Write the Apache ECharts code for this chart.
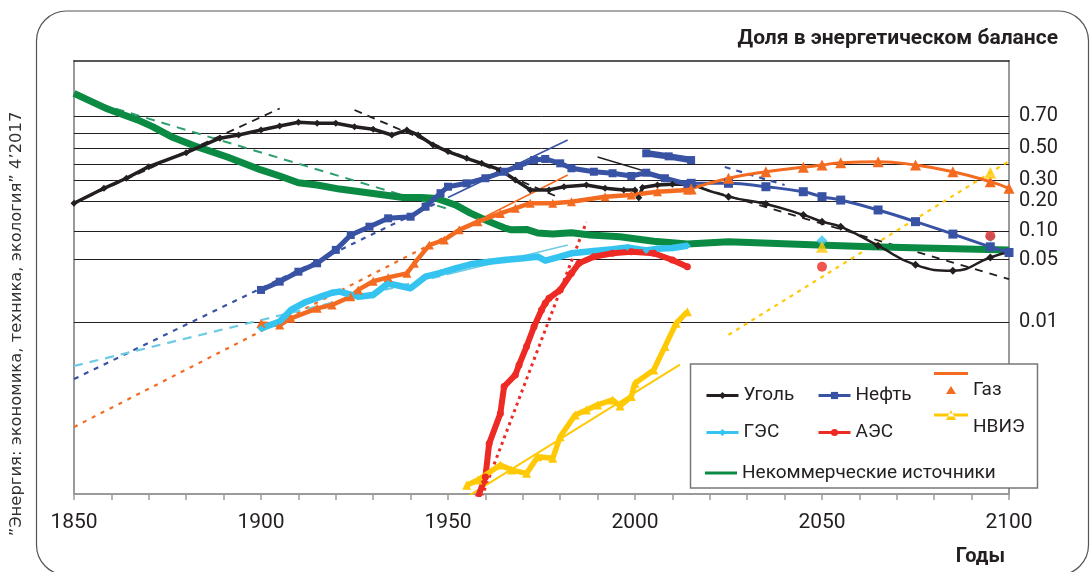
<!DOCTYPE html>
<html>
<head>
<meta charset="utf-8">
<script src="https://cdn.jsdelivr.net/npm/echarts@6/dist/echarts.min.js"></script>
<style>
  html, body { margin: 0; padding: 0; background: #fff; }
  #chart { width: 1090px; height: 572px; }
</style>
</head>
<body>
<div id="chart"></div>
<script>
  // shares of the energy balance (fractions)
  const coalHistory = [[1850,0.19],[1858,0.258],[1864,0.312],[1870,0.381],[1880,0.471],[1889,0.566],[1894,0.587],[1900,0.618],[1905,0.643],[1910,0.665],[1915,0.659],[1920,0.659],[1925,0.639],[1930,0.623],[1935,0.587],[1939,0.618],[1942,0.587],[1946,0.522],[1950,0.478],[1955,0.434],[1959,0.402],[1964,0.361],[1968,0.302],[1972,0.25],[1977,0.25],[1981,0.266],[1987,0.275],[1992,0.258],[1997,0.25],[2000,0.25],[2001,0.213],[2002,0.262],[2006,0.275],[2010,0.279],[2014,0.279]];
  const coalForecast = [[2015,0.279],[2025,0.218],[2035,0.187],[2045,0.147],[2050,0.126],[2055,0.112],[2065,0.071],[2075,0.044],[2085,0.038],[2095,0.053],[2100,0.061]];

  const oilHistory = [[1900,0.0232],[1905,0.0287],[1910,0.037],[1915,0.0458],[1920,0.064],[1924,0.092],[1929,0.112],[1934,0.136],[1940,0.141],[1944,0.176],[1948,0.234],[1950,0.266],[1955,0.284],[1960,0.312],[1965,0.35],[1969,0.385],[1973,0.423],[1976,0.43],[1980,0.402],[1983,0.371],[1989,0.35],[1994,0.341],[1999,0.325],[2003,0.344],[2008,0.312],[2014,0.28]];
  const oilUpper = [[2003,0.467],[2009,0.447],[2015,0.423]];
  const oilForecast = [[2015,0.284],[2025,0.284],[2035,0.266],[2045,0.241],[2050,0.218],[2055,0.203],[2065,0.164],[2075,0.126],[2085,0.094],[2095,0.069],[2100,0.06]];

  const gasHistory = [[1900,0.0097],[1905,0.0093],[1908,0.0111],[1915,0.0144],[1919,0.0157],[1924,0.0195],[1926,0.0232],[1930,0.029],[1934,0.032],[1939,0.0355],[1941,0.0458],[1945,0.072],[1949,0.0816],[1953,0.104],[1958,0.126],[1964,0.152],[1968,0.17],[1972,0.19],[1978,0.19],[1983,0.196],[1992,0.218],[1999,0.226],[2006,0.241],[2014,0.25]];
  const gasForecast = [[2015,0.255],[2025,0.312],[2035,0.35],[2045,0.377],[2050,0.391],[2055,0.406],[2065,0.412],[2075,0.391],[2085,0.35],[2095,0.293],[2100,0.258]];

  const hydroHistory = [[1900,0.0085],[1905,0.0102],[1908,0.0138],[1912,0.017],[1916,0.0195],[1919,0.0216],[1921,0.0222],[1926,0.0195],[1930,0.0204],[1934,0.0275],[1940,0.0242],[1944,0.0326],[1948,0.036],[1952,0.0403],[1956,0.0446],[1961,0.0476],[1965,0.0497],[1970,0.052],[1974,0.054],[1976,0.049],[1980,0.054],[1983,0.0588],[1989,0.0623],[1994,0.065],[1998,0.068],[2003,0.063],[2006,0.066],[2010,0.067],[2014,0.071]];
  const hydroScenario = [[2050,0.08],[2095,0.088]];

  const nuclearHistory = [[1958,0.0001],[1960,0.00017],[1961,0.00041],[1964,0.00091],[1965,0.00185],[1968,0.00251],[1969,0.00327],[1971,0.0053],[1973,0.0089],[1975,0.0138],[1976,0.0164],[1977,0.0187],[1980,0.0232],[1983,0.0355],[1985,0.0458],[1989,0.054],[1994,0.0588],[1999,0.0612],[2005,0.0588],[2010,0.0497],[2014,0.042]];
  const nuclearScenario = [[2050,0.042],[2095,0.09]];

  const renewHistory = [[1955,0.000137],[1958,0.000157],[1964,0.000233],[1967,0.000204],[1971,0.000187],[1974,0.00029],[1978,0.000278],[1980,0.000493],[1984,0.000873],[1987,0.000997],[1990,0.00114],[1994,0.0013],[1996,0.00111],[1999,0.00142],[2000,0.00202],[2005,0.00286],[2008,0.00529],[2011,0.00974],[2014,0.0132]];
  const renewScenario = [[2050,0.069],[2095,0.344]];

  const noncomShare = [[1850,0.81],[1859,0.738],[1867,0.679],[1871,0.639],[1876,0.576],[1883,0.509],[1891,0.443],[1900,0.361],[1905,0.325],[1910,0.287],[1915,0.275],[1921,0.254],[1929,0.235],[1938,0.214],[1943,0.214],[1947,0.21],[1952,0.183],[1956,0.153],[1961,0.126],[1965,0.109],[1967,0.104],[1971,0.105],[1974,0.0965],[1978,0.094],[1983,0.097],[1988,0.092],[1996,0.088],[2005,0.079],[2014,0.074],[2025,0.078],[2049,0.072],[2063,0.069],[2100,0.064]];

  // logistic fits (straight in this scale)
  const noncomFit = [[1857,0.763],[1950,0.168]];
  const coalFitRise = [[1850,0.19],[1905,0.741]];
  const coalFitFall = [[1925,0.733],[1980,0.212]];
  const coalFitLate = [[1990,0.443],[2014,0.281]];
  const coalFitLateAhead = [[2014,0.281],[2100,0.0306]];
  const oilFitBack = [[1850,0.00225],[1950,0.214]];
  const oilFit = [[1950,0.214],[1982,0.554]];
  const oilFitAhead = [[2024,0.379],[2040,0.275]];
  const gasFitBack = [[1850,0.000636],[1950,0.0909]];
  const gasFit = [[1950,0.0909],[1982,0.331]];
  const hydroFitBack = [[1850,0.00318],[1950,0.0347]];
  const hydroFit = [[1950,0.0347],[1982,0.072]];
  const nuclearFit = [[1959,0.0001],[1987,0.125]];
  const renewFit = [[1955,0.0001],[2012,0.0033]];
  const renewFitAhead = [[2025,0.0072],[2100,0.416]];

  const shareLabels = [0.7, 0.5, 0.3, 0.2, 0.1, 0.05, 0.01];
  const shareGrid = [0.7, 0.6, 0.5, 0.4, 0.3, 0.2, 0.1, 0.05, 0.01];

  const C = {
    coal: '#231f20', oil: '#3953a4', gas: '#f36b21', hydro: '#35c3f0',
    nuclear: '#ee2a24', renew: '#ffc905', noncom: '#0b8a43'
  };
  const FONT = 'Roboto, "Noto Sans", sans-serif';

  const logit = p => Math.log(p / (1 - p));
  const toLogit = rows => rows.map(r => [r[0], logit(r[1])]);
  const Y_MIN = -9.129, Y_MAX = 2.305;

  function hist(name, rows, color, symbol, size, width, z) {
    return {
      name, type: 'line', data: toLogit(rows), symbol, symbolSize: size,
      showSymbol: true, itemStyle: { color }, lineStyle: { color, width },
      z: z || 10, silent: true
    };
  }
  function smooth(name, rows, color, symbol, size, width) {
    const s = hist(name, rows, color, symbol, size, width, 11);
    s.smooth = 0.5;
    return s;
  }
  function dots(name, rows, color, symbol, size) {
    return {
      name, type: 'scatter', data: toLogit(rows), symbol, symbolSize: size,
      itemStyle: { color }, z: 12, silent: true
    };
  }
  function fit(rows, color, type, width) {
    return {
      name: 'fit', type: 'line', data: toLogit(rows), symbol: 'none',
      lineStyle: { color, type, width }, z: 8, silent: true
    };
  }

  const chart = echarts.init(document.getElementById('chart'));

  const legendText = { fontSize: 19, color: '#231f20', fontFamily: FONT };
  function legendAt(left, top, data, extra) {
    return Object.assign({
      orient: 'horizontal', padding: 0, itemGap: 0, itemWidth: 32, itemHeight: 9,
      selectedMode: false, z: 30, lineStyle: { width: 3 }, textStyle: legendText,
      left, top, data
    }, extra || {});
  }

  const option = {
    animation: false,
    backgroundColor: '#fff',
    title: [
      {
        text: 'Доля в энергетическом балансе', right: 27, top: 23,
        textStyle: { fontSize: 21, fontWeight: 'bold', color: '#231f20', fontFamily: FONT }
      },
      {
        text: 'Годы', right: 80, top: 542,
        textStyle: { fontSize: 20, fontWeight: 'bold', color: '#231f20', fontFamily: FONT }
      }
    ],
    grid: { left: 74, right: 81, top: 61, bottom: 78 },
    legend: [
      legendAt(705, 386, ['Уголь']),
      legendAt(817, 386, ['Нефть']),
      legendAt(934, 372, [{ name: 'Газ', icon: 'path://M0,0L34,0L34,3L0,3Z M12,22L22,22L17,14Z M0,36L0.1,36L0,36Z' }],
        { itemWidth: 34, itemHeight: 36 }),
      legendAt(705, 423, ['ГЭС']),
      legendAt(817, 423, ['АЭС']),
      legendAt(934, 410, [{ name: 'НВИЭ', icon: 'path://M0,3.5L34,3.5L34,6.5L0,6.5Z M12,10L22,10L17,0Z M0,34L0.1,34L0,34Z' }],
        { itemWidth: 34, itemHeight: 34 }),
      legendAt(705, 463.5, [{ name: 'Некоммерческие источники', icon: 'path://M0,0L32,0L32,3L0,3Z' }],
        { itemHeight: 3 })
    ],
    xAxis: [
      {
        type: 'value', min: 1850, max: 2100, interval: 10,
        axisLine: { onZero: false, lineStyle: { color: '#9a9a9a', width: 2 } },
        axisTick: { length: 6, lineStyle: { color: '#9a9a9a', width: 1.5 } },
        axisLabel: {
          margin: 18, fontSize: 21, color: '#231f20', fontFamily: FONT,
          formatter: v => (v % 50 === 0 ? String(v) : '')
        },
        splitLine: { show: false }
      },
      {
        type: 'value', position: 'top', min: 1850, max: 2100,
        axisLine: { show: true, onZero: false, lineStyle: { color: '#231f20', width: 1.5 } },
        axisTick: { show: false }, axisLabel: { show: false }, splitLine: { show: false }
      }
    ],
    yAxis: [
      {
        type: 'value', min: Y_MIN, max: Y_MAX, position: 'left',
        axisLine: { show: true, onZero: false, lineStyle: { color: '#9a9a9a', width: 2 } },
        axisTick: { show: false }, axisLabel: { show: false }, splitLine: { show: false }
      },
      {
        type: 'value', min: Y_MIN, max: Y_MAX, position: 'right',
        axisLine: { show: true, onZero: false, lineStyle: { color: '#9a9a9a', width: 2 } },
        axisTick: { show: false }, splitLine: { show: false },
        axisLabel: {
          customValues: shareLabels.map(logit), margin: 10,
          fontSize: 20, color: '#231f20', fontFamily: FONT,
          formatter: v => (1 / (1 + Math.exp(-v))).toFixed(2)
        }
      }
    ],
    graphic: [
      {
        type: 'rect', z: -1, silent: true,
        shape: { x: 36.5, y: 11, width: 1052, height: 564, r: 30 },
        style: { fill: 'none', stroke: '#555', lineWidth: 1.2 }
      },
      {
        type: 'rect', z: 20, silent: true,
        shape: { x: 690.5, y: 364, width: 347, height: 124 },
        style: { fill: '#fff', stroke: '#777', lineWidth: 1.5 }
      },
      {
        type: 'text', x: 17, y: 324, rotation: Math.PI / 2, silent: true,
        style: {
          text: '”Энергия: экономика, техника, экология” 4’2017',
          align: 'center', verticalAlign: 'middle',
          font: '16.4px "DejaVu Sans", sans-serif', fill: '#333'
        }
      }
    ],
    series: [
      {
        name: 'grid', type: 'line', data: [], silent: true, z: 1,
        markLine: {
          silent: true, z: 1, symbol: 'none', animation: false,
          label: { show: false },
          lineStyle: { color: '#231f20', width: 1, type: 'solid' },
          emphasis: { disabled: true },
          data: shareGrid.map(p => ({ yAxis: logit(p) }))
        }
      },
      fit(noncomFit, '#2f9e6e', [9, 7], 2),
      fit(coalFitRise, C.coal, [8, 6], 1.8),
      fit(coalFitFall, C.coal, [8, 6], 1.8),
      fit(coalFitLate, C.coal, 'solid', 1.5),
      fit(coalFitLateAhead, C.coal, [8, 7], 1.8),
      fit(oilFitBack, C.oil, [5, 6], 2.2),
      fit(oilFit, C.oil, 'solid', 1.6),
      fit(oilFitAhead, C.oil, [6, 6], 2.2),
      fit(gasFitBack, C.gas, [4, 6], 2.2),
      fit(gasFit, C.gas, 'solid', 1.6),
      fit(hydroFitBack, '#6dcbe3', [9, 7], 2.2),
      fit(hydroFit, '#6dcbe3', 'solid', 1.6),
      fit(nuclearFit, C.nuclear, [3, 4], 3),
      fit(renewFit, C.renew, 'solid', 2),
      fit(renewFitAhead, C.renew, [4, 5], 2.2),

      hist('Уголь', coalHistory, C.coal, 'diamond', 7, 3.5),
      hist('Нефть', oilHistory, C.oil, 'rect', 8, 5),
      hist('Газ', gasHistory, C.gas, 'triangle', 9, 4.5),
      hist('ГЭС', hydroHistory, C.hydro, 'diamond', 7, 6.5),
      hist('АЭС', nuclearHistory, C.nuclear, 'circle', 7, 6),
      hist('НВИЭ', renewHistory, C.renew, 'triangle', 9, 5.5),
      {
        name: 'Некоммерческие источники', type: 'line', data: toLogit(noncomShare),
        symbol: 'none', lineStyle: { color: C.noncom, width: 7 }, itemStyle: { color: C.noncom },
        z: 9, silent: true
      },
      hist('Нефть', oilUpper, C.oil, 'rect', 8, 6.5),
      smooth('Уголь', coalForecast, C.coal, 'diamond', 8, 2.5),
      smooth('Нефть', oilForecast, C.oil, 'rect', 9, 3),
      smooth('Газ', gasForecast, C.gas, 'triangle', 11, 3),
      dots('ГЭС', hydroScenario, C.hydro, 'diamond', 11),
      dots('АЭС', nuclearScenario, C.nuclear, 'circle', 10),
      dots('НВИЭ', renewScenario, C.renew, 'triangle', 12)
    ]
  };

  chart.setOption(option);
</script>
</body>
</html>
